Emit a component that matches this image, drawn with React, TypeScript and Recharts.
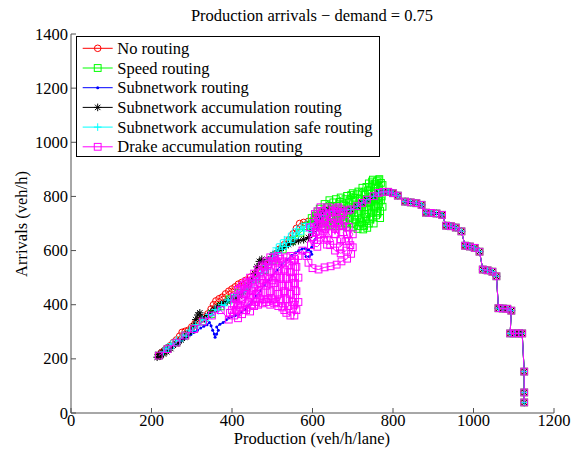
import React from 'react';
import { ScatterChart, Scatter, XAxis, YAxis, Legend } from 'recharts';

type Pt = [number, number];

const xTicks = [0, 200, 400, 600, 800, 1000, 1200];
const yTicks = [0, 200, 400, 600, 800, 1000, 1200, 1400];

const titleText = 'Production arrivals \u2212 demand = 0.75';
const xLabel = 'Production (veh/h/lane)';
const yLabel = 'Arrivals (veh/h)';

// common ridge + congested (descending) branch
const sharedBranch: Pt[] = [
  [694, 752], [711, 764], [723, 776], [735, 788], [752, 801], [764, 813], [776, 817], [788, 817],
  [800, 812], [812, 803], [830, 781], [844, 778], [858, 775], [871, 769], [882, 740], [895, 739],
  [908, 737], [922, 732], [932, 692], [944, 690], [956, 685], [970, 671], [979, 618], [991, 615],
  [1003, 610], [1015, 596], [1023, 530], [1035, 527], [1047, 522], [1057, 505], [1062, 387],
  [1073, 386], [1084, 385], [1094, 378], [1091, 294], [1103, 294], [1113, 294], [1121, 294],
  [1126, 153], [1126, 76], [1126, 39],
];

const noRoutingRise: Pt[] = [
  [218, 212], [224, 222], [230, 228], [238, 240], [246, 248], [254, 260], [262, 270], [270, 284],
  [276, 298], [284, 302], [292, 306], [300, 318], [308, 330], [316, 340], [324, 346], [332, 352],
  [340, 366], [348, 384], [354, 400], [360, 414], [368, 422], [376, 428], [384, 440], [392, 450],
  [400, 458], [408, 466], [416, 476], [424, 482], [434, 490], [446, 502], [458, 515], [470, 530],
  [482, 548], [494, 565], [506, 585], [518, 605], [530, 622], [542, 640], [552, 662], [560, 682],
  [568, 700], [578, 704], [590, 708], [605, 718], [620, 730], [640, 740], [660, 745], [680, 748],
];

const speedRoutingRise: Pt[] = [
  [218, 212], [240, 236], [262, 260], [284, 286], [306, 310], [328, 338], [350, 366], [372, 394],
  [394, 420], [416, 444], [438, 468], [460, 496], [482, 528], [504, 566], [526, 604], [548, 636],
  [570, 666], [585, 690], [595, 692], [598, 720], [610, 735], [612, 700], [625, 690], [628, 740],
  [630, 772], [642, 786], [640, 740], [645, 695], [656, 690], [656, 740], [658, 790], [670, 796],
  [670, 745], [672, 690], [686, 686], [686, 740], [686, 802], [700, 812], [700, 750], [700, 686],
  [712, 680], [712, 740], [714, 818], [724, 832], [724, 770], [724, 700], [726, 678], [736, 684],
  [736, 750], [738, 822], [740, 848], [750, 862], [748, 800], [750, 722], [758, 730], [758, 790],
  [760, 856], [766, 864], [766, 800], [768, 746], [774, 762], [774, 842], [770, 850], [770, 785],
  [762, 770], [762, 830], [754, 845], [754, 760], [744, 835], [744, 780], [742, 715], [730, 735],
  [730, 805], [718, 790], [718, 705], [706, 715], [706, 795], [692, 785], [692, 720], [678, 715],
  [678, 770], [664, 715], [662, 765], [650, 715], [648, 765], [634, 710], [618, 755], [618, 720],
  [604, 712], [600, 700], [608, 728], [614, 745], [622, 700], [628, 720], [636, 760], [638, 700],
  [644, 730], [652, 778], [654, 705], [660, 735], [668, 780], [668, 700], [676, 730], [682, 790],
  [684, 700], [690, 760], [696, 805], [698, 700], [704, 730], [710, 808], [714, 690], [720, 720],
  [722, 815], [728, 690], [732, 760], [734, 835], [740, 700], [746, 740], [748, 855], [752, 700],
  [758, 815], [762, 740], [764, 860], [768, 720], [772, 800], [740, 780], [710, 762],
];

const subnetworkRise: Pt[] = [
  [218, 212], [226, 220], [234, 228], [242, 236], [250, 244], [258, 250], [266, 258], [274, 266],
  [282, 274], [290, 282], [298, 290], [306, 298], [314, 306], [322, 314], [330, 320], [338, 326],
  [344, 334], [348, 322], [352, 306], [356, 292], [358, 280], [362, 292], [366, 306], [362, 318],
  [370, 328], [378, 334], [386, 344], [392, 352], [400, 356], [408, 360], [416, 364], [424, 372],
  [432, 382], [440, 396], [450, 414], [460, 432], [470, 452], [480, 470], [490, 490], [500, 508],
  [512, 528], [524, 548], [536, 566], [548, 582], [558, 592], [566, 600], [574, 606], [582, 608],
  [590, 604], [596, 596], [598, 586], [592, 578], [584, 578], [580, 590], [588, 602], [598, 612],
  [606, 640], [612, 680], [618, 715], [622, 730], [630, 740], [650, 748], [680, 750],
];

const accumulationRise: Pt[] = [
  [214, 206], [218, 216], [222, 210], [226, 224], [230, 218], [234, 232], [238, 226], [243, 242],
  [248, 238], [254, 250], [260, 256], [266, 262], [274, 270], [282, 280], [290, 292], [298, 304],
  [305, 322], [310, 345], [315, 362], [320, 370], [326, 352], [332, 348], [340, 360], [348, 372],
  [356, 384], [364, 392], [372, 400], [380, 406], [388, 412], [396, 420], [404, 428], [410, 418],
  [418, 432], [428, 448], [438, 466], [448, 490], [456, 515], [462, 540], [468, 560], [474, 568],
  [480, 552], [490, 566], [502, 585], [515, 600], [528, 612], [540, 622], [552, 630], [565, 636],
  [578, 640], [590, 648], [600, 670], [610, 700], [620, 725], [628, 745], [640, 752], [660, 748],
  [680, 750],
];

const safeRise: Pt[] = [
  [230, 226], [236, 240], [242, 236], [248, 256], [255, 250], [262, 270], [270, 266], [278, 288],
  [286, 284], [294, 306], [302, 304], [310, 326], [318, 326], [326, 346], [334, 342], [342, 364],
  [350, 360], [358, 382], [366, 378], [374, 400], [382, 396], [390, 418], [398, 414], [406, 436],
  [414, 432], [422, 452], [430, 448], [438, 468], [446, 466], [454, 490], [462, 490], [470, 514],
  [478, 520], [482, 545], [488, 530], [492, 565], [498, 550], [502, 590], [506, 575], [510, 610],
  [515, 590], [520, 625], [525, 605], [530, 640], [535, 615], [540, 650], [546, 630], [550, 665],
  [556, 645], [560, 680], [566, 660], [572, 690], [578, 672], [584, 700], [590, 685], [594, 700],
  [598, 668], [604, 690], [612, 710], [622, 728], [635, 742], [655, 748], [680, 750],
];

const drakeRise: Pt[] = [
  [218, 212], [240, 236], [262, 260], [284, 286], [306, 310], [328, 338], [350, 360], [372, 380],
  [392, 345], [395, 370], [405, 400], [405, 360], [405, 430], [415, 455], [415, 400], [415, 350],
  [425, 365], [425, 420], [425, 470], [435, 485], [435, 440], [435, 380], [445, 375], [445, 430],
  [445, 500], [455, 515], [455, 460], [455, 395], [465, 400], [465, 450], [465, 530], [475, 545],
  [475, 490], [475, 405], [485, 410], [485, 470], [485, 560], [495, 575], [495, 520], [495, 450],
  [495, 400], [505, 405], [505, 480], [505, 575], [515, 580], [515, 530], [515, 440], [515, 395],
  [525, 390], [525, 470], [525, 560], [535, 575], [535, 500], [535, 420], [535, 370], [545, 360],
  [545, 440], [545, 520], [545, 580], [555, 570], [555, 480], [555, 400], [555, 360], [565, 410],
  [565, 500], [565, 580], [560, 540], [560, 450], [560, 380], [550, 410], [550, 500], [550, 560],
  [540, 545], [540, 470], [540, 395], [530, 380], [530, 450], [530, 530], [520, 570], [520, 500],
  [520, 420], [510, 410], [510, 500], [510, 560], [500, 560], [500, 490], [500, 420], [490, 420],
  [490, 500], [490, 550], [480, 540], [480, 480], [480, 420], [470, 420], [470, 480], [470, 520],
  [460, 505], [460, 440], [460, 410], [450, 400], [450, 450], [450, 490], [440, 480], [440, 410],
  [430, 380], [430, 440], [430, 475], [420, 460], [420, 390], [410, 380], [410, 420], [400, 380],
  [575, 600], [585, 580], [590, 555], [600, 535], [615, 530], [630, 538], [645, 542], [660, 548],
  [672, 560], [686, 570], [696, 588], [700, 612], [690, 636], [700, 660], [690, 688], [676, 668],
  [682, 634], [668, 612], [670, 642], [656, 680], [660, 720], [650, 748], [664, 760], [676, 742],
  [680, 710], [666, 692], [646, 704], [636, 730], [624, 746], [614, 722], [604, 702], [594, 686],
  [608, 668], [624, 690], [640, 664], [652, 636], [636, 622], [620, 648], [604, 640], [596, 620],
  [612, 614], [628, 640], [644, 690], [630, 710], [612, 745], [600, 650], [610, 690], [618, 660],
  [626, 720], [632, 680], [642, 740], [648, 700], [656, 660], [662, 700], [672, 730], [676, 690],
  [686, 660], [694, 620], [684, 600], [670, 590], [656, 600], [644, 620], [630, 660], [618, 700],
  [606, 735], [620, 760], [634, 752], [648, 725], [660, 742], [660, 756], [640, 760], [670, 752],
  [688, 748],
];

const seriesNames = [
  'No routing',
  'Speed routing',
  'Subnetwork routing',
  'Subnetwork accumulation routing',
  'Subnetwork accumulation safe routing',
  'Drake accumulation routing',
];
const seriesColors = ['#ff0000', '#00ff00', '#0000ff', '#000000', '#00ffff', '#ff00ff'];
const seriesMarkers = ['circle', 'square', 'dot', 'star', 'plus', 'square'];
const seriesRises = [noRoutingRise, speedRoutingRise, subnetworkRise, accumulationRise, safeRise, drakeRise];

const FONT = "'Liberation Serif', 'DejaVu Serif', serif";
const AXIS_COLOR = '#505050';
const textStyle: React.CSSProperties = { fontFamily: FONT, fontSize: 16.5 };

function Marker({ kind, cx, cy, color }: { kind: string; cx: number; cy: number; color: string }) {
  if (cx == null || cy == null || isNaN(cx) || isNaN(cy)) return null;
  switch (kind) {
    case 'circle':
      return <circle cx={cx} cy={cy} r={3.3} fill="none" stroke={color} strokeWidth={1} />;
    case 'square':
      return <rect x={cx - 3.4} y={cy - 3.4} width={6.8} height={6.8} fill="none" stroke={color} strokeWidth={1} />;
    case 'dot':
      return <circle cx={cx} cy={cy} r={1.5} fill={color} />;
    case 'star':
      return (
        <g stroke={color} strokeWidth={1}>
          <line x1={cx - 3.8} y1={cy} x2={cx + 3.8} y2={cy} />
          <line x1={cx} y1={cy - 3.8} x2={cx} y2={cy + 3.8} />
          <line x1={cx - 2.7} y1={cy - 2.7} x2={cx + 2.7} y2={cy + 2.7} />
          <line x1={cx - 2.7} y1={cy + 2.7} x2={cx + 2.7} y2={cy - 2.7} />
        </g>
      );
    case 'plus':
      return (
        <g stroke={color} strokeWidth={1}>
          <line x1={cx - 3.8} y1={cy} x2={cx + 3.8} y2={cy} />
          <line x1={cx} y1={cy - 3.8} x2={cx} y2={cy + 3.8} />
        </g>
      );
    default:
      return null;
  }
}

const XTick = (props: any) => {
  const { x, y, payload } = props;
  return (
    <g>
      <line x1={x} y1={y} x2={x} y2={y - 5} stroke={AXIS_COLOR} strokeWidth={1} />
      <text x={x} y={y + 13} textAnchor="middle" style={textStyle} fill="#000">
        {payload.value}
      </text>
    </g>
  );
};

const YTick = (props: any) => {
  const { x, y, payload } = props;
  return (
    <g>
      <line x1={x} y1={y} x2={x + 5} y2={y} stroke={AXIS_COLOR} strokeWidth={1} />
      <text x={x - 3} y={y + 5.5} textAnchor="end" style={textStyle} fill="#000">
        {payload.value}
      </text>
    </g>
  );
};

const LegendBox = () => {
  const rowY = (i: number) => 12.3 + i * 19.7;
  return (
    <svg width={306} height={123} style={{ display: 'block' }}>
      <rect x={0.5} y={0.5} width={303} height={120} fill="#fff" stroke="#000" strokeWidth={1} />
      {seriesNames.map((name, i) => (
        <g key={name}>
          <line x1={6.7} y1={rowY(i)} x2={36.7} y2={rowY(i)} stroke={seriesColors[i]} strokeWidth={1} />
          <Marker kind={seriesMarkers[i]} cx={21.7} cy={rowY(i)} color={seriesColors[i]} />
          <text x={41.3} y={rowY(i) + 5.5} style={textStyle} fill="#000">
            {name}
          </text>
        </g>
      ))}
    </svg>
  );
};

export default function App() {
  const seriesData = seriesRises.map((rise) =>
    rise.concat(sharedBranch).map(([x, y]) => ({ x, y }))
  );
  return (
    <div style={{ position: 'absolute', left: 0, top: 0, width: 571, height: 453, background: '#fff' }}>
      <ScatterChart width={571} height={453} margin={{ top: 34, right: 17, bottom: 0, left: 0 }}>
        <XAxis
          type="number"
          dataKey="x"
          domain={[0, 1200]}
          ticks={xTicks}
          interval={0}
          allowDataOverflow
          height={40}
          tickSize={0}
          tickMargin={0}
          tickLine={false}
          axisLine={{ stroke: AXIS_COLOR, strokeWidth: 1 }}
          tick={<XTick />}
        />
        <YAxis
          type="number"
          dataKey="y"
          domain={[0, 1400]}
          ticks={yTicks}
          interval={0}
          allowDataOverflow
          width={71}
          tickSize={0}
          tickMargin={0}
          tickLine={false}
          axisLine={{ stroke: AXIS_COLOR, strokeWidth: 1 }}
          tick={<YTick />}
        />
        {seriesData.map((data, i) => (
          <Scatter
            key={seriesNames[i]}
            name={seriesNames[i]}
            data={data}
            fill={seriesColors[i]}
            stroke={seriesColors[i]}
            line={{ stroke: seriesColors[i], strokeWidth: 1 }}
            lineType="joint"
            isAnimationActive={false}
            shape={(p: any) => <Marker kind={seriesMarkers[i]} cx={p.cx} cy={p.cy} color={seriesColors[i]} />}
          />
        ))}
        <Legend
          layout="vertical"
          align="center"
          verticalAlign="middle"
          wrapperStyle={{ left: 76, top: 36, width: 306, height: 123 }}
          content={() => <LegendBox />}
        />
      </ScatterChart>
      <svg
        width={571}
        height={453}
        style={{ position: 'absolute', left: 0, top: 0, pointerEvents: 'none' }}
      >
        <text x={312} y={21} textAnchor="middle" style={textStyle} fill="#000">
          {titleText}
        </text>
        <text x={312} y={444} textAnchor="middle" style={textStyle} fill="#000">
          {xLabel}
        </text>
        <text
          x={0}
          y={0}
          transform="translate(27,224) rotate(-90)"
          textAnchor="middle"
          style={textStyle}
          fill="#000"
        >
          {yLabel}
        </text>
      </svg>
    </div>
  );
}
